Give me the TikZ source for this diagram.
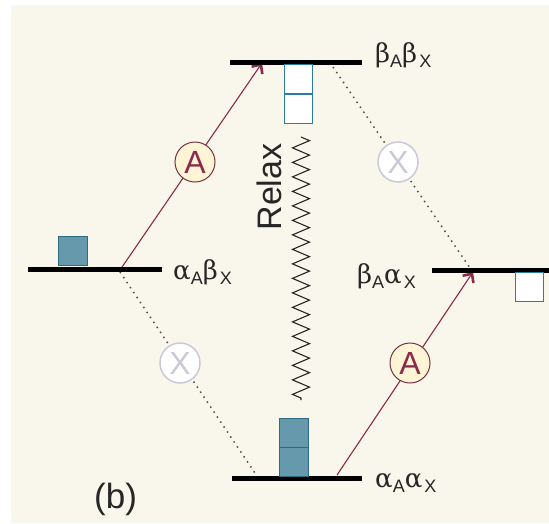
\documentclass[tikz,border=0pt]{standalone}
\usepackage{fontspec}
\setmainfont{Liberation Sans}
\newfontfamily\grk{DejaVu Serif}
\usetikzlibrary{arrows.meta,decorations.pathmorphing}
\definecolor{bgc}{HTML}{F9F6EB}
\definecolor{maroon}{HTML}{8A2A4A}
\definecolor{cborder}{HTML}{74343F}
\definecolor{cfill}{HTML}{FFF5D6}
\definecolor{xgray}{HTML}{CACAD6}
\definecolor{dotc}{HTML}{505050}
\definecolor{boxfill}{HTML}{6799AC}
\definecolor{boxline}{HTML}{2E6A80}
\definecolor{eline}{HTML}{2A7DA3}
\newcommand\lvlab[4]{{\grk\fontsize{26}{26}\selectfont #1}\raisebox{-5pt}{\fontsize{18}{18}\selectfont #2}{\grk\fontsize{26}{26}\selectfont #3}\kern2pt\raisebox{-5pt}{\fontsize{18}{18}\selectfont #4}}
\tikzset{
  level/.style={line width=5pt, black},
  fbox/.style={draw=boxline, fill=boxfill, line width=1pt, minimum width=29pt, minimum height=29pt, inner sep=0pt},
  ebox/.style={draw=eline, fill=white, line width=1pt, minimum width=28pt, minimum height=29pt, inner sep=0pt},
  arr/.style={maroon, line width=1.1pt, -{Straight Barb[length=7pt,width=13pt,line width=2.6pt]}},
  dotl/.style={dotc, line width=1.5pt, dash pattern=on 1.5pt off 4.5pt},
  acirc/.style={circle, draw=cborder, line width=1pt, fill=cfill, minimum size=40pt, inner sep=0pt, text=maroon, font=\fontsize{32}{32}\selectfont},
  xcirc/.style={circle, draw=xgray, line width=1.5pt, fill=white, minimum size=40pt, inner sep=0pt, text=xgray, font=\fontsize{32}{32}\selectfont},
  lab/.style={anchor=base west, inner sep=0pt, text=black!85}
}
\begin{document}
\begin{tikzpicture}[x=1pt,y=-1pt]
\useasboundingbox (0,0) rectangle (549,523);
\fill[bgc] (11,5) rectangle (549,523);
% level coordinates
\coordinate (t1) at (230,62); \coordinate (t2) at (362,62);
\coordinate (l1) at (28,269); \coordinate (l2) at (162,269);
\coordinate (r1) at (432,270); \coordinate (r2) at (549,270);
\coordinate (b1) at (232,478); \coordinate (b2) at (362,478);
% connector endpoints
\coordinate (la) at (120,270); \coordinate (ta) at (262,63);
\coordinate (ba) at (337,475); \coordinate (ra) at (473,272);
\coordinate (ld) at (120,272); \coordinate (bd) at (257,476);
\coordinate (td) at (333,67); \coordinate (rd) at (470,268);
\coordinate (z1) at (301,137); \coordinate (z2) at (301,400);
% dotted forbidden transitions
\draw[dotl] (ld) -- (bd);
\draw[dotl] (td) -- (rd);
% allowed transitions
\draw[arr] (la) -- (ta);
\draw[arr] (ba) -- (ra);
% relaxation
\draw[line width=1.1pt, black!85, decorate, decoration={zigzag, segment length=14.5pt, amplitude=8.5pt}] (z1) -- (z2);
\node[rotate=90, font=\fontsize{34}{34}\selectfont, text=black!85, inner sep=0pt] (relax) at (269.5,187) {Relax};
% levels
\draw[level] (t1) -- (t2);
\draw[level] (l1) -- (l2);
\draw[level] (r1) -- (r2);
\draw[level] (b1) -- (b2);
% boxes
\node[ebox] (tb1) at (298,79) {};
\node[ebox] (tb2) at (298,109) {};
\node[fbox] (lb) at (73,250.5) {};
\node[ebox] (rb) at (529,286.5) {};
\node[fbox] (bb1) at (294,433) {};
\node[fbox] (bb2) at (294,462) {};
% circles
\node[acirc] (a1) at (195,162) {A};
\node[acirc] (a2) at (410,363) {A};
\node[xcirc] (x1) at (180,363) {X};
\node[xcirc] (x2) at (398,162) {X};
% labels
\node[lab] (lt) at (375,62) {\lvlab{β}{A}{β}{X}};
\node[lab] (ll) at (173,279) {\lvlab{α}{A}{β}{X}};
\node[lab] (lr) at (357,283) {\lvlab{β}{A}{α}{X}};
\node[lab] (lbm) at (375,487) {\lvlab{α}{A}{α}{X}};
\node[lab, font=\fontsize{35}{35}\selectfont] (lbl) at (94,508) {(b)};
\end{tikzpicture}
\end{document}
